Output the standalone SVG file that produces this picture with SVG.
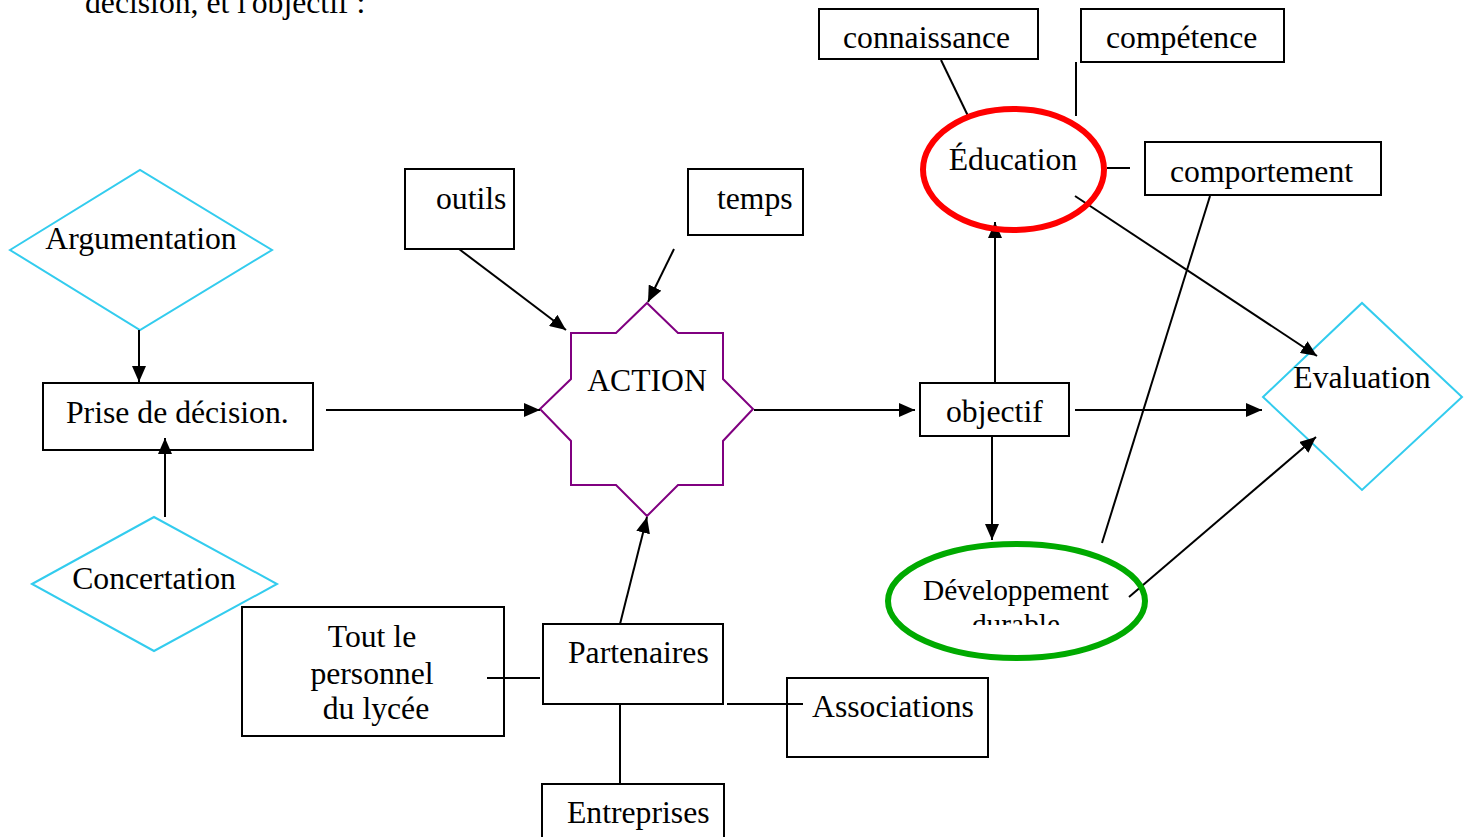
<svg xmlns="http://www.w3.org/2000/svg" width="1467" height="837" viewBox="0 0 1467 837">
<style>
text{font-family:"Liberation Serif","Times New Roman",serif;font-size:31.7px;fill:#000}
.box{fill:#fff;stroke:#000;stroke-width:2}
.dia{fill:#fff;stroke:#33CCEE;stroke-width:2}
.ln{stroke:#000;stroke-width:2;fill:none}
.arr{stroke:#000;stroke-width:2;fill:none;marker-end:url(#ah)}
.mid{text-anchor:middle}
.sm{font-size:29.4px}
</style>
<defs>
<marker id="ah" viewBox="0 0 16 14" refX="16" refY="7" markerWidth="16" markerHeight="14" markerUnits="userSpaceOnUse" orient="auto">
<path d="M0,0 L16,7 L0,14 z" fill="#000"/>
</marker>
<clipPath id="devclip"><rect x="880" y="540" width="280" height="85"/></clipPath>
</defs>
<rect width="1467" height="837" fill="#fff"/>
<text x="85" y="13">décision, et l'objectif :</text>

<g id="argumentation"><polygon class="dia" points="10,250 140,170 272,250 140,330"/><text class="mid" x="141" y="249">Argumentation</text></g>
<g id="concertation"><polygon class="dia" points="32,584 154,517 277,584 154,651"/><text class="mid" x="154" y="589">Concertation</text></g>
<g id="prise"><rect class="box" x="43" y="383" width="270" height="67"/><text x="66" y="423">Prise de décision.</text></g>
<g id="outils"><rect class="box" x="405" y="169" width="109" height="80"/><text x="436" y="209">outils</text></g>
<g id="temps"><rect class="box" x="688" y="169" width="115" height="66"/><text x="717" y="209">temps</text></g>
<g id="action"><polygon points="647,303 678,333 723,333 723,379 753,409 723,441 723,485 678,485 647,516 616,485 571,485 571,441 540,409 571,379 571,333 616,333" fill="#fff" stroke="#800080" stroke-width="2"/><text class="mid" x="647" y="391">ACTION</text></g>
<g id="objectif"><rect class="box" x="920" y="383" width="149" height="53"/><text x="946" y="422">objectif</text></g>
<g id="connaissance"><rect class="box" x="819" y="9" width="219" height="50"/><text x="843" y="48">connaissance</text></g>
<g id="competence"><rect class="box" x="1081" y="9" width="203" height="53"/><text x="1106" y="48">compétence</text></g>
<g id="comportement"><rect class="box" x="1145" y="142" width="236" height="53"/><text x="1170" y="182">comportement</text></g>
<g id="evaluation"><polygon class="dia" points="1263,397 1362,303 1462,397 1362,490"/><text class="mid" x="1362" y="388">Evaluation</text></g>
<g id="tout"><rect class="box" x="242" y="607" width="262" height="129"/><text class="mid" x="372" y="647">Tout le</text><text class="mid" x="372" y="684">personnel</text><text class="mid" x="376" y="719">du lycée</text></g>
<g id="partenaires"><rect class="box" x="543" y="624" width="180" height="80"/><text x="568" y="663">Partenaires</text></g>
<g id="associations"><rect class="box" x="787" y="678" width="201" height="79"/><text x="812" y="717">Associations</text></g>
<g id="entreprises"><rect class="box" x="542" y="784" width="182" height="70"/><text x="567" y="823">Entreprises</text></g>

<g id="connectors">
<line class="arr" x1="139" y1="330" x2="139" y2="382"/>
<line class="arr" x1="165" y1="517" x2="165" y2="438"/>
<line class="arr" x1="326" y1="410" x2="540" y2="410"/>
<line class="arr" x1="459" y1="249" x2="566" y2="330"/>
<line class="arr" x1="674" y1="249" x2="648" y2="302"/>
<line class="arr" x1="620" y1="624" x2="647" y2="517"/>
<line class="arr" x1="754" y1="410" x2="915" y2="410"/>
<line class="arr" x1="995" y1="383" x2="995" y2="222"/>
<line class="arr" x1="992" y1="436" x2="992" y2="540"/>
<line class="arr" x1="1075" y1="410" x2="1262" y2="410"/>
<line class="ln" x1="941" y1="60" x2="969" y2="118"/>
<line class="ln" x1="1076" y1="62" x2="1076" y2="116"/>
<line class="ln" x1="1107" y1="168" x2="1130" y2="168"/>
<line class="arr" x1="1075" y1="196" x2="1317" y2="356"/>
<line class="ln" x1="1210" y1="196" x2="1102" y2="543"/>
<line class="arr" x1="1129" y1="597" x2="1316" y2="437"/>
<line class="ln" x1="487" y1="678" x2="540" y2="678"/>
<line class="ln" x1="727" y1="704" x2="803" y2="704"/>
<line class="ln" x1="620" y1="704" x2="620" y2="784"/>
</g>

<g id="education"><ellipse cx="1013.5" cy="169.5" rx="90.5" ry="60.5" fill="none" stroke="#FF0000" stroke-width="6"/><text class="mid" x="1013" y="170">Éducation</text></g>
<g id="developpement"><ellipse cx="1016.5" cy="601" rx="128.5" ry="57" fill="none" stroke="#00AA00" stroke-width="6"/><text class="mid sm" x="1016" y="600">Développement</text><text class="mid sm" x="1016" y="634" clip-path="url(#devclip)">durable</text></g>
</svg>
